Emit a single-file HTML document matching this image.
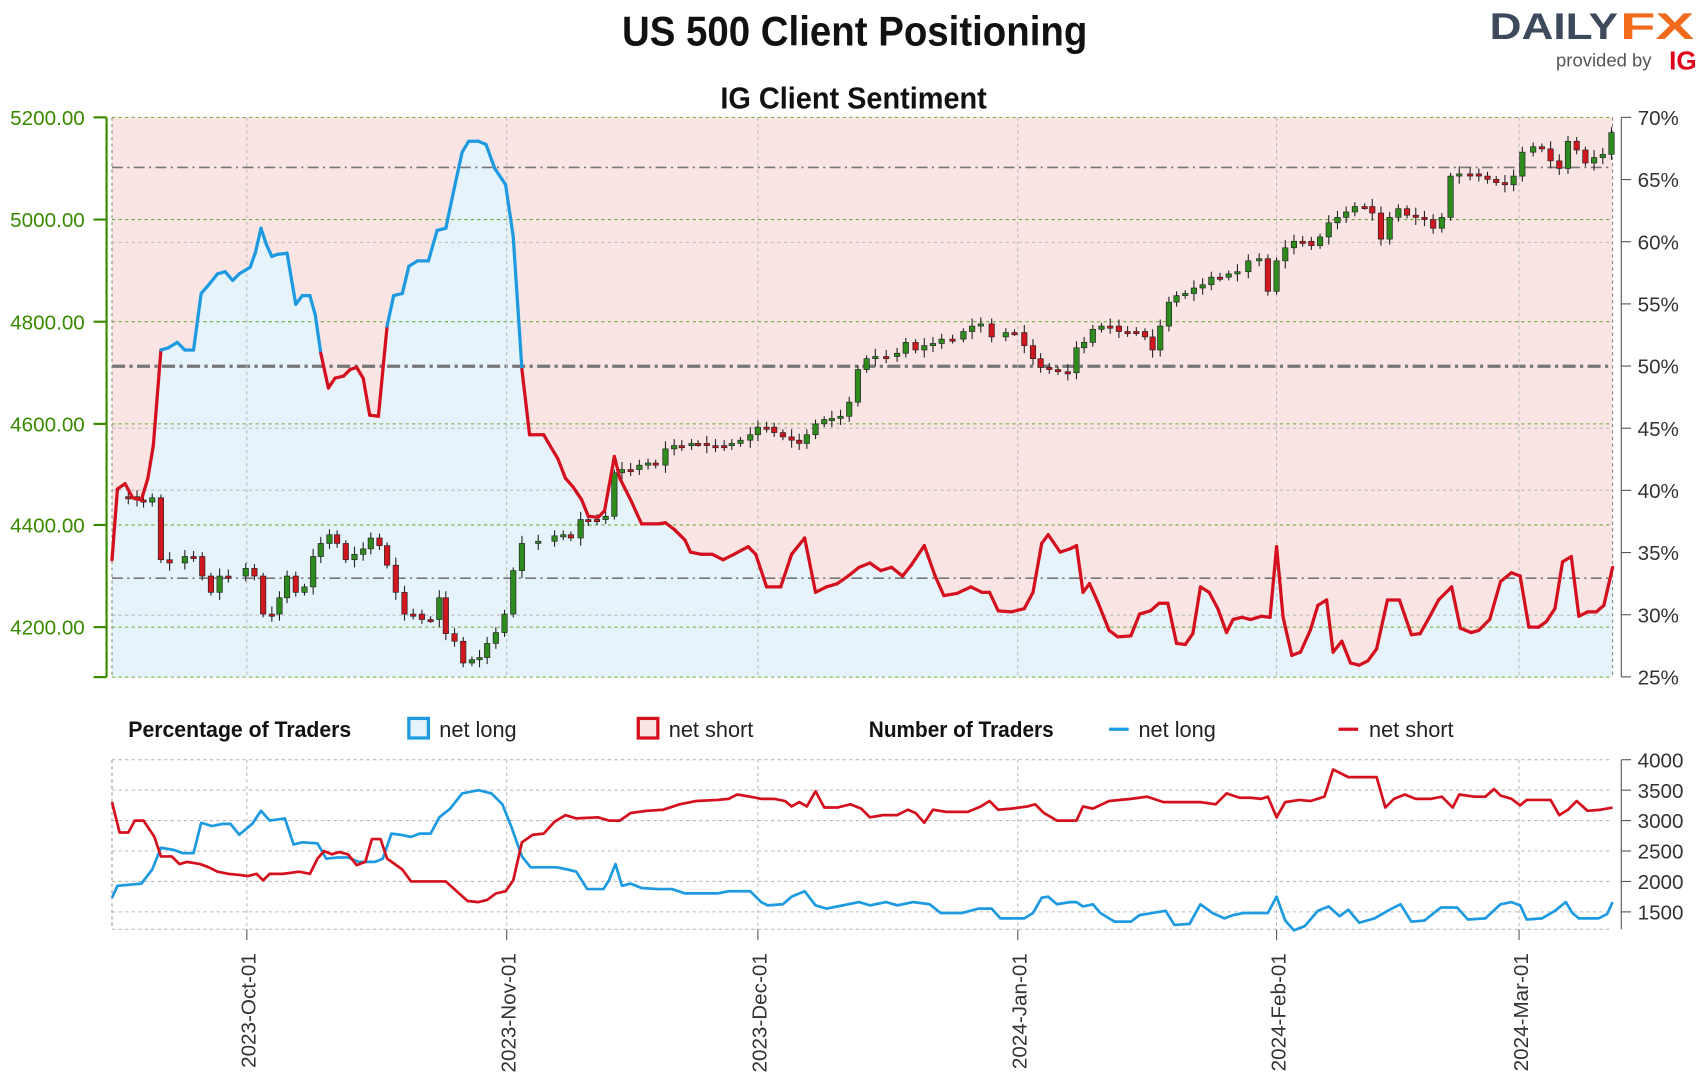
<!DOCTYPE html>
<html><head><meta charset="utf-8"><style>
html,body{margin:0;padding:0;background:#fff}
svg{display:block}
text{font-family:"Liberation Sans",sans-serif}
</style></head><body>
<svg id="s" width="1705" height="1076" viewBox="0 0 1568 990" preserveAspectRatio="none" xmlns="http://www.w3.org/2000/svg">
<rect width="1568" height="990" fill="#fff"/>
<text x="786" y="42" text-anchor="middle" font-size="38" font-weight="bold" textLength="428" lengthAdjust="spacingAndGlyphs" fill="#111">US 500 Client Positioning</text>
<text x="785" y="100" text-anchor="middle" font-size="28" font-weight="bold" textLength="245" lengthAdjust="spacingAndGlyphs" fill="#111">IG Client Sentiment</text>
<text x="1370" y="36" font-size="34" font-weight="bold" fill="#3d4a5c" textLength="118" lengthAdjust="spacingAndGlyphs">DAILY</text>
<text x="1490" y="36" font-size="34" font-weight="bold" fill="#f26b1d" textLength="68" lengthAdjust="spacingAndGlyphs">FX</text>
<text x="1431" y="61" font-size="17" fill="#555">provided by</text>
<text x="1535" y="64" font-size="24" font-weight="bold" fill="#e0001b">IG</text>
<rect x="103" y="108" width="1380" height="515" fill="#fae4e4"/>
<g id="main"></g>
<g id="low"></g>
</svg>
<script>
const S='http://www.w3.org/2000/svg',M=document.getElementById('main'),L=document.getElementById('low');
function el(p,t,a,txt){const e=document.createElementNS(S,t);for(const k in a)e.setAttribute(k,a[k]);if(txt!=null)e.textContent=txt;p.appendChild(e);return e}
function pts(a){let r=[];for(let i=0;i<a.length;i+=2)r.push(a[i]+','+a[i+1]);return r.join(' ')}
const sent=[103,515,108,450,115,445,122,458,130,460,136,440,141,410,148,322,155,320,163,315,170,322,178,322,185,270,192,262,200,252,207,250,214,258,220,252,230,246,235,232,240,210,245,225,250,236,255,234,264,233,272,280,278,272,285,272,290,290,295,325,302,357,308,348,316,346,322,340,328,338,334,348,340,382,348,383,356,300,362,272,370,270,376,245,384,240,394,240,402,212,410,210,418,172,425,140,431,130,440,130,447,133,455,155,465,170,472,218,480,340,487,400,500,400,507,412,513,422,520,440,527,448,535,460,541,475,550,476,556,470,565,420,570,440,580,460,590,482,605,482,612,481,620,487,630,497,635,508,645,510,655,510,665,515,675,510,688,503,695,510,705,540,718,540,728,510,740,495,750,545,760,540,770,537,780,530,790,522,800,518,810,525,820,522,830,530,838,520,850,502,860,530,868,548,880,546,893,540,903,545,910,545,918,562,930,563,942,560,950,545,958,500,964,492,975,508,984,505,990,502,996,545,1002,537,1010,555,1020,580,1028,586,1040,585,1048,565,1058,562,1066,555,1074,555,1082,592,1090,593,1097,583,1104,540,1112,545,1120,560,1128,582,1134,570,1142,568,1150,570,1160,567,1168,568,1174,503,1180,568,1188,603,1196,600,1205,580,1212,557,1220,552,1226,600,1234,590,1242,610,1250,612,1258,608,1266,597,1276,552,1287,552,1298,584,1306,583,1315,567,1323,552,1335,540,1343,578,1353,582,1360,580,1370,570,1380,535,1390,527,1398,530,1406,577,1415,577,1422,572,1430,560,1437,517,1445,512,1452,567,1460,563,1468,563,1475,557,1483,522];
el(M,'polygon',{points:'103,623 '+pts(sent)+' 1483,623',fill:'#e6f3fb'});
// grid
[108,202,296,390,483,577,623].forEach(y=>el(M,'line',{x1:103,x2:1483,y1:y,y2:y,stroke:'#6aaa3a','stroke-dasharray':'3,3','stroke-width':1}));
[223,394,451,566].forEach(y=>el(M,'line',{x1:103,x2:1483,y1:y,y2:y,stroke:'#bbb','stroke-dasharray':'3,3'}));
[154,532].forEach(y=>el(M,'line',{x1:103,x2:1483,y1:y,y2:y,stroke:'#777','stroke-dasharray':'10,4,2,4','stroke-width':1.5}));
el(M,'line',{x1:103,x2:1483,y1:337,y2:337,stroke:'#777','stroke-dasharray':'12,4,3,4','stroke-width':3});
const xs=[227,466,697,936,1174,1397],lab=['2023-Oct-01','2023-Nov-01','2023-Dec-01','2024-Jan-01','2024-Feb-01','2024-Mar-01'];
xs.forEach((x,i)=>{el(M,'line',{x1:x,x2:x,y1:108,y2:623,stroke:'#bbb','stroke-dasharray':'3,3'});el(L,'line',{x1:x,x2:x,y1:699,y2:855,stroke:'#bbb','stroke-dasharray':'3,3'});el(L,'line',{x1:x,x2:x,y1:855,y2:865,stroke:'#555'});
el(L,'text',{x:0,y:0,transform:`translate(${x+8},877) rotate(-90)`,'text-anchor':'end','font-size':19,fill:'#333'},lab[i])});
el(M,'line',{x1:103,x2:103,y1:108,y2:623,stroke:'#888','stroke-dasharray':'3,3'});
el(M,'line',{x1:1483,x2:1483,y1:108,y2:623,stroke:'#888','stroke-dasharray':'3,3'});
// candles
const pr=[110,457,118,457,126,460,132,462,140,458,148,515,156,518,170,512,178,512,186,530,194,545,202,530,210,530,226,523,234,530,242,565,250,565,257,550,264,530,272,545,280,540,288,512,295,500,303,492,310,500,318,515,326,510,334,505,341,495,349,502,356,520,364,545,372,565,380,565,388,570,396,570,404,550,410,583,418,590,426,610,434,607,441,605,448,592,456,582,464,565,472,525,480,500,495,498,510,493,518,492,525,495,534,478,541,478,549,478,557,475,565,435,572,432,580,432,588,428,596,426,603,428,612,413,620,410,627,410,636,408,642,408,650,410,658,410,666,410,673,408,681,405,690,400,697,393,705,393,712,398,720,402,728,405,735,408,742,400,750,390,758,386,765,385,773,383,781,370,789,340,797,330,805,328,815,328,825,325,833,315,842,322,850,318,858,316,866,312,876,312,886,305,894,300,902,298,912,310,925,306,933,306,942,318,950,330,957,338,965,340,973,342,982,343,990,320,997,315,1005,303,1013,300,1021,300,1029,305,1037,305,1045,305,1053,310,1060,322,1067,300,1075,278,1082,272,1090,270,1098,265,1106,262,1114,255,1122,255,1130,252,1138,250,1148,240,1158,238,1166,268,1174,240,1182,228,1190,222,1198,222,1206,226,1214,218,1222,205,1230,200,1238,195,1246,190,1255,190,1262,196,1270,220,1278,200,1286,192,1294,198,1302,200,1310,202,1318,210,1326,200,1334,162,1342,160,1352,160,1360,162,1368,165,1376,168,1384,170,1392,162,1400,140,1410,135,1418,137,1426,148,1434,155,1442,130,1450,138,1458,150,1466,145,1474,142,1482,122];
for(let i=2;i<pr.length;i+=2){const x=pr[i],o=pr[i-1],c=pr[i+1];const t=Math.min(o,c),b=Math.max(o,c);const w=3+((i*7)%5);
el(M,'line',{x1:x,x2:x,y1:t-w,y2:b+w,stroke:'#222','stroke-width':1});
el(M,'rect',{x:x-2.5,y:t,width:5,height:Math.max(2,b-t),fill:c<o?'#2e8b1e':'#d0161f',stroke:'#222','stroke-width':0.6});}
// sentiment line coloured
for(let i=0;i<sent.length-2;i+=2){const x1=sent[i],y1=sent[i+1],x2=sent[i+2],y2=sent[i+3];const col=((y1+y2)/2<337)?'#1e9be0':'#d4101e';
el(M,'line',{x1,y1,x2,y2,stroke:col,'stroke-width':3,'stroke-linecap':'round'});}
// left axis
el(M,'line',{x1:98,x2:98,y1:108,y2:623,stroke:'#3a8a00','stroke-width':2});
[[5200,108],[5000,202],[4800,296],[4600,390],[4400,483],[4200,577]].forEach(([v,y])=>{el(M,'line',{x1:86,x2:98,y1:y,y2:y,stroke:'#3a8a00','stroke-width':2});el(M,'text',{x:78,y:y+7,'text-anchor':'end','font-size':19,fill:'#3a8a00'},v.toFixed(2))});
el(M,'line',{x1:86,x2:98,y1:623,y2:623,stroke:'#3a8a00','stroke-width':2});
// right axis
el(M,'line',{x1:1491,x2:1491,y1:108,y2:623,stroke:'#555'});
[70,65,60,55,50,45,40,35,30,25].forEach((p,i)=>{const y=108+(70-p)*11.44;el(M,'line',{x1:1491,x2:1500,y1:y,y2:y,stroke:'#555'});el(M,'text',{x:1506,y:y+7,'font-size':19,fill:'#333'},p+'%')});
// legend
el(L,'text',{x:118,y:678,'font-size':20,'font-weight':'bold',fill:'#111',textLength:205,lengthAdjust:'spacingAndGlyphs'},'Percentage of Traders');
el(L,'rect',{x:376,y:661,width:18,height:18,fill:'#e6f3fb',stroke:'#1e9be0','stroke-width':3});
el(L,'text',{x:404,y:678,'font-size':20,fill:'#222'},'net long');
el(L,'rect',{x:587,y:661,width:18,height:18,fill:'#fae4e4',stroke:'#d4101e','stroke-width':3});
el(L,'text',{x:615,y:678,'font-size':20,fill:'#222'},'net short');
el(L,'text',{x:799,y:678,'font-size':20,'font-weight':'bold',fill:'#111',textLength:170,lengthAdjust:'spacingAndGlyphs'},'Number of Traders');
el(L,'line',{x1:1020,x2:1038,y1:671,y2:671,stroke:'#1e9be0','stroke-width':3});
el(L,'text',{x:1047,y:678,'font-size':20,fill:'#222'},'net long');
el(L,'line',{x1:1231,x2:1249,y1:671,y2:671,stroke:'#d4101e','stroke-width':3});
el(L,'text',{x:1259,y:678,'font-size':20,fill:'#222'},'net short');
// lower chart
[699,727,755,783,811,839,855].forEach(y=>el(L,'line',{x1:103,x2:1483,y1:y,y2:y,stroke:'#bbb','stroke-dasharray':'3,3'}));
el(L,'line',{x1:103,x2:103,y1:699,y2:855,stroke:'#999','stroke-dasharray':'3,3'});
el(L,'line',{x1:1491,x2:1491,y1:699,y2:855,stroke:'#555'});
[4000,3500,3000,2500,2000,1500].forEach((v,i)=>{const y=699+i*28;el(L,'line',{x1:1491,x2:1500,y1:y,y2:y,stroke:'#555'});el(L,'text',{x:1506,y:y+7,'font-size':19,fill:'#333'},v)});
const bl=[103,826,108,815,130,813,140,800,148,780,160,782,168,785,178,785,185,757,195,760,205,758,212,758,220,768,232,758,240,746,248,755,262,753,270,777,278,775,292,776,300,790,310,789,320,789,330,793,345,793,352,790,360,767,368,768,378,770,386,767,396,767,404,752,414,744,425,730,440,727,452,730,462,740,470,760,480,788,488,798,500,798,512,798,522,800,530,802,540,818,555,818,560,810,566,795,572,815,580,813,590,817,605,818,618,818,630,822,650,822,660,822,670,820,690,820,700,830,706,833,720,832,728,825,740,820,750,833,760,836,775,833,790,830,800,833,815,830,825,833,840,830,855,832,865,840,885,840,900,836,912,836,920,845,942,845,950,840,958,826,964,825,972,832,984,830,990,830,996,834,1005,832,1012,840,1025,848,1040,848,1048,842,1060,840,1072,838,1080,851,1094,850,1104,832,1115,840,1126,845,1134,842,1144,840,1166,840,1174,825,1182,847,1190,856,1200,852,1212,838,1222,834,1232,843,1240,837,1250,849,1264,845,1278,837,1288,832,1298,848,1310,847,1325,835,1340,835,1350,846,1366,845,1380,832,1390,830,1398,833,1404,846,1418,845,1430,838,1440,830,1446,840,1452,845,1470,845,1478,841,1483,830];
const rd=[103,738,110,766,118,766,124,755,132,755,142,770,148,788,158,788,165,795,172,793,184,795,192,798,200,802,210,804,220,805,228,806,236,804,242,810,248,804,260,804,275,802,285,804,292,790,298,783,305,786,312,784,320,786,328,796,336,793,342,772,350,772,356,790,370,800,378,811,390,811,410,811,420,820,430,829,440,830,448,828,456,822,465,820,472,810,480,775,490,768,500,767,510,756,520,750,530,753,550,752,560,755,570,755,580,748,595,746,610,745,625,740,640,737,660,736,670,735,678,731,690,733,700,735,712,735,722,737,728,742,735,738,742,742,750,728,758,743,770,743,782,740,792,744,800,752,812,750,825,750,835,745,842,748,850,757,858,745,870,747,890,747,902,742,910,737,918,745,930,744,945,742,952,740,960,748,972,755,990,755,996,742,1005,744,1020,737,1040,735,1055,733,1070,738,1090,738,1104,738,1118,740,1128,730,1140,734,1150,734,1160,735,1166,733,1174,752,1182,738,1195,736,1205,737,1218,733,1226,708,1240,715,1258,715,1266,715,1274,743,1282,735,1292,731,1302,735,1316,735,1326,733,1336,743,1342,731,1356,733,1366,733,1374,726,1380,732,1390,735,1398,741,1404,736,1426,736,1434,750,1442,745,1450,737,1460,746,1472,745,1483,743];
el(L,'polyline',{points:pts(bl),fill:'none',stroke:'#1e9be0','stroke-width':2.5,'stroke-linejoin':'round'});
el(L,'polyline',{points:pts(rd),fill:'none',stroke:'#d4101e','stroke-width':2.5,'stroke-linejoin':'round'});
</script>
</body></html>
